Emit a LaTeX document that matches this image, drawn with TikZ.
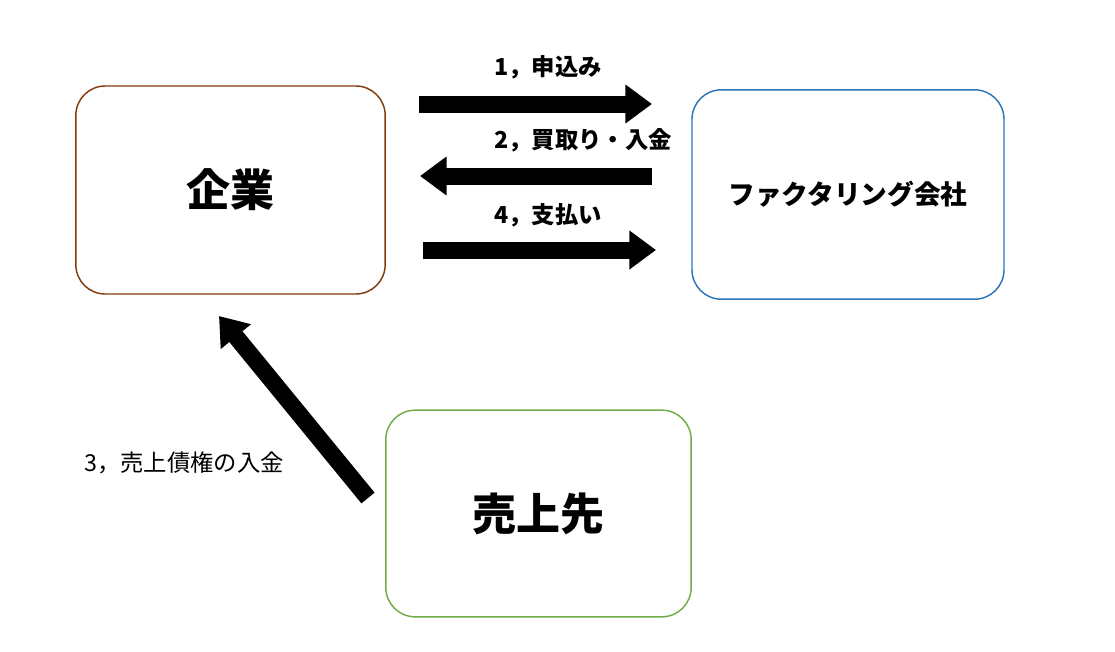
\documentclass[tikz,border=0pt]{standalone}
\usepackage{fontspec}
\setmainfont{Noto Sans CJK JP}
\usetikzlibrary{arrows.meta}

\definecolor{kigyobrown}{RGB}{132,60,12}
\definecolor{factblue}{RGB}{46,117,182}
\definecolor{urigreen}{RGB}{112,173,71}

\begin{document}
\begin{tikzpicture}[x=0.75pt,y=-0.75pt,
    party/.style={draw,rounded corners=22pt,line width=1.1pt,inner sep=0pt,
                  minimum width=#1},
    party/.default=232pt,
    blockarrow/.style={line width=12.75pt,-{Triangle[length=20pt,width=28pt]}},
    steplabel/.style={font=\bfseries\fontsize{17.5}{20}\selectfont}]
    \useasboundingbox (0,0) rectangle (1115,651);

    \node[party=232pt,draw=kigyobrown,minimum height=156pt] (kigyo) at (230.5,190)
        {\bfseries\fontsize{33}{38}\selectfont 企業};
    \node[party=234pt,draw=factblue,minimum height=157pt] (fact) at (848,194.5)
        {\bfseries\fontsize{20}{23}\selectfont ファクタリング会社};
    \node[party=229pt,draw=urigreen,minimum height=155pt] (uri) at (538.5,513.5)
        {\bfseries\fontsize{33}{38}\selectfont 売上先};

    % arrow ends
    \coordinate (a1s) at (419,104);
    \coordinate (a1e) at (652,104);
    \coordinate (a2s) at (652,176);
    \coordinate (a2e) at (420,176);
    \coordinate (a4s) at (423,250);
    \coordinate (a4e) at (656,250);
    \coordinate (a3s) at (368,498);
    \coordinate (a3e) at (219,316);

    \draw[blockarrow] (a1s) -- (a1e);
    \draw[blockarrow] (a2s) -- (a2e);
    \draw[blockarrow] (a4s) -- (a4e);
    \draw[blockarrow] (a3s) -- (a3e);

    \node[steplabel] (l1) at (548,67)  {1，申込み};
    \node[steplabel] (l2) at (583,140) {2，買取り・入金};
    \node[steplabel] (l4) at (548,215) {4，支払い};
    \node[font=\fontsize{17.5}{20}\selectfont] (l3) at (184,463) {3，売上債権の入金};
\end{tikzpicture}
\end{document}
